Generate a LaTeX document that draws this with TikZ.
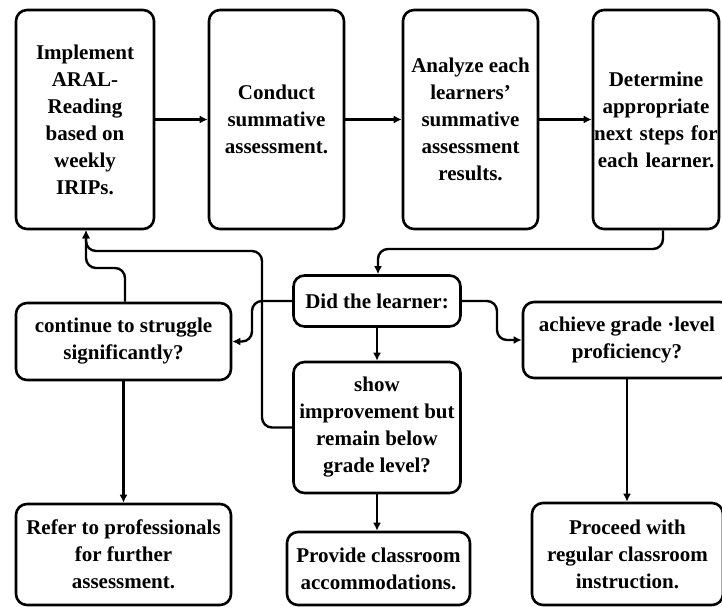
\documentclass[tikz,border=0pt]{standalone}
\usepackage{fontspec}
\setmainfont{Liberation Serif}
\usetikzlibrary{arrows.meta}
\begin{document}
\begin{tikzpicture}[x=1pt,y=-1pt,
  box/.style={draw=black, line width=2.6pt, rounded corners=11pt, align=center,
    inner sep=0pt, font=\bfseries\fontsize{21}{27}\selectfont, fill=white},
  conn/.style={draw=black, line width=2.4pt, rounded corners=10pt,
    -{Latex[length=8pt,width=8pt]}}
]
\useasboundingbox (0,0) rectangle (722,607);
\fill[white] (0,0) rectangle (722,607);

\node[box, minimum width=138pt, minimum height=219pt] (b1) at (85,119.5)
  {Implement\\ARAL-\\Reading\\based on\\weekly\\IRIPs.};
\node[box, minimum width=135pt, minimum height=219pt] (b2) at (276.5,119.5)
  {Conduct\\summative\\assessment.};
\node[box, minimum width=135pt, minimum height=219pt] (b3) at (470.5,119.5)
  {Analyze each\\learners'\\summative\\assessment\\results.};
\node[box, minimum width=126pt, minimum height=219pt, text width=126pt] (b4) at (656,119.5)
  {Determine\\appropriate\\next steps for\\each learner.};

\node[box, minimum width=167pt, minimum height=51pt] (did) at (377,301)
  {Did the learner:};
\node[box, minimum width=215pt, minimum height=77pt] (cont) at (123.5,341.5)
  {continue to struggle\\significantly?};
\node[box, minimum width=167pt, minimum height=131pt] (show) at (377,427.5)
  {show\\improvement but\\remain below\\grade level?};
\node[box, minimum width=208pt, minimum height=76pt] (ach) at (627,340)
  {achieve grade ·level\\proficiency?};
\node[box, minimum width=215pt, minimum height=101pt] (ref) at (123.5,554.5)
  {Refer to professionals\\for further\\assessment.};
\node[box, minimum width=183pt, minimum height=73pt] (prov) at (378.5,568.5)
  {Provide classroom\\accommodations.};
\node[box, minimum width=191pt, minimum height=102pt] (proc) at (627.5,554)
  {Proceed with\\regular classroom\\instruction.};

\draw[conn] (b1.east) -- (b2.west);
\draw[conn] (b2.east) -- (b3.west);
\draw[conn] (b3.east) -- (b4.west);

\coordinate (c1) at (663,249);
\coordinate (c2) at (378,249);
\draw[conn] (b4.south -| c1) -- (c1) -- (c2) -- (did.north -| c2);

\coordinate (l1) at (252,301);
\coordinate (l2) at (252,341.5);
\draw[conn] (did.west) -- (l1) -- (l2) -- (cont.east);

\coordinate (r1) at (497,301);
\coordinate (r2) at (497,340);
\draw[conn] (did.east) -- (r1) -- (r2) -- (ach.west);

\draw[conn] (did.south) -- (show.north);
\draw[conn] (show.south) -- (show.south |- prov.north);
\draw[conn] (ach.south) -- (ach.south |- proc.north);
\draw[conn] (cont.south) -- (ref.north);

\coordinate (s1) at (262,427.5);
\coordinate (s2) at (262,251);
\coordinate (s3) at (86,251);
\draw[conn] (show.west) -- (s1) -- (s2) -- (s3) -- (b1.south -| s3);

\coordinate (k1) at (125,268);
\coordinate (k2) at (86,268);
\draw[conn] (cont.north -| k1) -- (k1) -- (k2) -- (b1.south -| k2);
\end{tikzpicture}
\end{document}
